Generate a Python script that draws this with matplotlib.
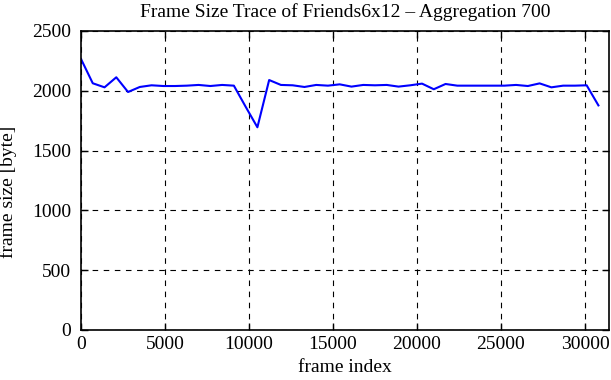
import matplotlib
matplotlib.use("Agg")
import matplotlib.pyplot as plt
import numpy as np

agg = 700
frame_size = [2266, 2063, 2029, 2113, 1990, 2032, 2046, 2040, 2040, 2043,
              2049, 2040, 2049, 2043, 1867, 1695, 2090, 2049, 2046, 2032,
              2049, 2043, 2054, 2035, 2049, 2046, 2049, 2035, 2046, 2060,
              2013, 2057, 2043, 2043, 2043, 2043, 2043, 2049, 2040, 2062,
              2029, 2043, 2043, 2046, 1878]
frame_index = [i * agg for i in range(len(frame_size))]
xticks = [0, 5000, 10000, 15000, 20000, 25000, 30000]
yticks = [0, 500, 1000, 1500, 2000, 2500]

plt.rcParams['font.family'] = ['Liberation Serif', 'DejaVu Serif']
fs = 14
fig = plt.figure(figsize=(6.11, 3.80), dpi=100)
ax = fig.add_axes([81/611, 50/380, 528/611, 299/380])
ax.plot(frame_index, frame_size, color='#0000ff', lw=1.5)
ax.set_xlim(0, 31430)
ax.set_ylim(0, 2500)
ax.set_xticks(xticks)
ax.set_yticks(yticks)
ax.tick_params(direction='in', top=True, right=True, length=5, width=1, labelsize=fs)
ax.tick_params(axis='y', pad=7)
ax.tick_params(axis='x', pad=4)
ax.grid(True, color='black', linestyle=(0, (5, 5)), linewidth=0.8)
for s in ax.spines.values():
    s.set_linewidth(1.2)
ax.set_title('Frame Size Trace of Friends6x12 \u2013 Aggregation 700', fontsize=fs, pad=10)
ax.set_xlabel('frame index', fontsize=fs, labelpad=5)
ax.set_ylabel('frame size [byte]', fontsize=fs, labelpad=11)
ax.yaxis.label.set_y(0.463)
fig.savefig('out.png', dpi=100)
